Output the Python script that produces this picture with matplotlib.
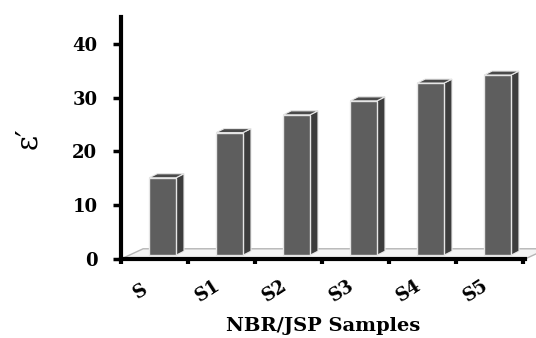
import numpy as np
import matplotlib
matplotlib.use("Agg")
import matplotlib.pyplot as plt
from matplotlib.patches import Polygon, Rectangle

# data
samples = ["S", "S1", "S2", "S3", "S4", "S5"]
eps_real = [15.1, 23.5, 26.8, 29.4, 32.7, 34.2]
y_ticks = [0, 10, 20, 30, 40]

FRONT = "#5e5e5e"
SIDE = "#3d3d3d"
TOP = "#4a4a4a"
EDGE = "#e6e6e6"

fig = plt.figure(figsize=(5.36, 3.38), dpi=100)
ax = fig.add_axes([121 / 536, 79 / 338, 404 / 536, 242 / 338])
ax.set_xlim(-0.5, 5.53)
ax.set_ylim(0, 45)

# fake 3d floor
fdx, fdy = 0.33, 1.9
floor = Polygon([(-0.5, 0), (5.53, 0), (5.53 + fdx, fdy), (-0.5 + fdx, fdy)],
                closed=True, facecolor="#f4f4f4", edgecolor="#b5b5b5",
                linewidth=1.0, zorder=1, clip_on=False)
ax.add_patch(floor)

# bars with side and top faces
x = np.arange(len(samples))
width = 0.40
shift = 0.12
base = 0.7
bdx, bdy = 0.12, 0.75
for xi, v in zip(x, eps_real):
    left = xi + shift - width / 2
    right = left + width
    side = Polygon([(right, base), (right + bdx, base + bdy),
                    (right + bdx, v + bdy), (right, v)],
                   closed=True, facecolor=SIDE, edgecolor=EDGE,
                   linewidth=0.8, zorder=3)
    top = Polygon([(left, v), (right, v), (right + bdx, v + bdy),
                   (left + bdx, v + bdy)],
                  closed=True, facecolor=TOP, edgecolor=EDGE,
                  linewidth=0.8, zorder=3)
    front = Rectangle((left, base), width, v - base, facecolor=FRONT,
                      edgecolor=EDGE, linewidth=1.0, zorder=4)
    ax.add_patch(side)
    ax.add_patch(top)
    ax.add_patch(front)

# axes styling
for s in ["top", "right"]:
    ax.spines[s].set_visible(False)
for s in ["left", "bottom"]:
    ax.spines[s].set_linewidth(3.0)
    ax.spines[s].set_zorder(5)

tick_font = dict(family="DejaVu Serif", weight="bold", size=13)

ax.set_yticks(y_ticks)
ax.set_yticklabels([str(t) for t in y_ticks], fontdict=tick_font)
ax.tick_params(axis="y", direction="out", length=6, width=2.5, pad=11)

ax.set_xticks(x - 0.2)
ax.set_xticklabels(samples, fontdict=tick_font, rotation=33,
                   ha="center", va="center", rotation_mode="anchor")
ax.tick_params(axis="x", which="major", length=0, pad=23)
ax.set_xticks(np.arange(len(samples) + 1) - 0.5, minor=True)
ax.tick_params(axis="x", which="minor", direction="out", length=3.5, width=3)

ax.set_xlabel("NBR/JSP Samples", family="DejaVu Serif", weight="bold",
              size=14, labelpad=8)
ax.set_ylabel("ε′", family="DejaVu Serif", size=21, labelpad=22)

fig.savefig("out.png", dpi=100)
